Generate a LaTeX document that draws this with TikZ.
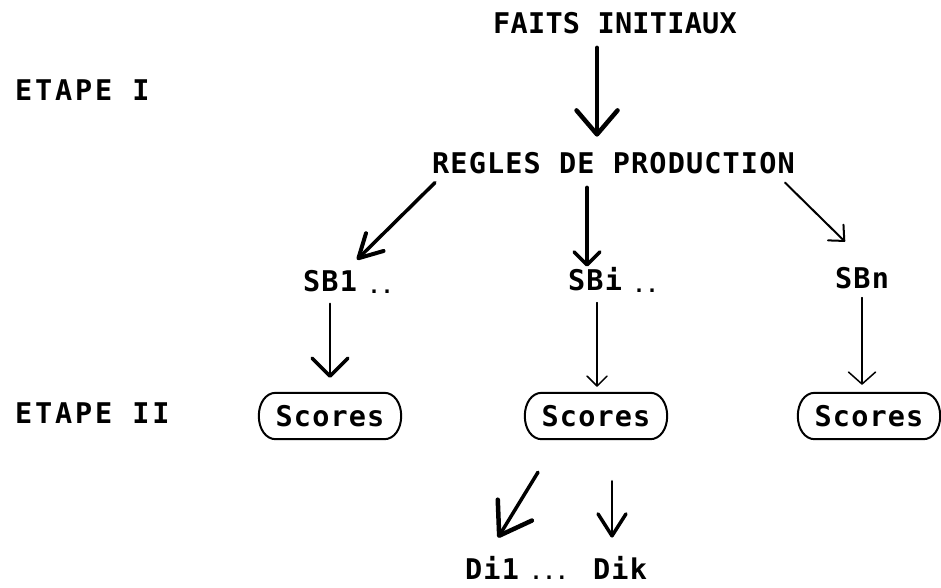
\documentclass[tikz,border=0pt]{standalone}
\usepackage{fontspec}
\usetikzlibrary{arrows.meta,calc}
\newfontfamily\lblfont{DejaVu Sans Mono}[LetterSpace=4]
% frame with parenthesis-like curved sides around a node
\newcommand\ovalframe[1]{%
  \draw[frame] ($(#1.north west)+(17,0)$) -- ($(#1.north east)+(-17,0)$)
    .. controls ($(#1.north east)+(-7,0)$) and ($(#1.east)+(0,-13)$) .. (#1.east)
    .. controls ($(#1.east)+(0,13)$) and ($(#1.south east)+(-7,0)$) .. ($(#1.south east)+(-17,0)$)
    -- ($(#1.south west)+(17,0)$)
    .. controls ($(#1.south west)+(7,0)$) and ($(#1.west)+(0,13)$) .. (#1.west)
    .. controls ($(#1.west)+(0,-13)$) and ($(#1.north west)+(7,0)$) .. cycle;}
\tikzset{
  lbl/.style={inner sep=0pt, font=\lblfont\bfseries\fontsize{28.5}{30}\selectfont},
  steplbl/.style={inner sep=0pt, font=\lblfont\bfseries\fontsize{28.5}{30}\selectfont\addfontfeature{LetterSpace=10}},
  dotlbl/.style={inner sep=0pt, font=\lblfont\bfseries\fontsize{20}{20}\selectfont},
  scorebox/.style={lbl, minimum width=142pt, minimum height=46pt},
  frame/.style={line width=2pt, line join=round},
  conn/.style n args={4}{line width=#1, line cap=round,
    -{Straight Barb[length=#2, width=#3, line width=#4, round]}}
}
\begin{document}
\begin{tikzpicture}[x=1pt, y=-1pt]
  \fill[white] (0,0) rectangle (941,587);
  \useasboundingbox (0,0) rectangle (941,587);

  % level labels
  \node[steplbl, anchor=base west] (etape1) at (15,100) {ETAPE I};
  \node[steplbl, anchor=base west] (etape2) at (15,423) {ETAPE II};

  % stage I
  \node[lbl, anchor=base west, font=\lblfont\bfseries\fontsize{28.5}{30}\selectfont\addfontfeature{LetterSpace=1}] (faits) at (493,33) {FAITS INITIAUX};
  \node[lbl, anchor=base west] (regles) at (432,173) {REGLES DE PRODUCTION};
  \node[lbl, anchor=base west] (sb1) at (303,291) {SB1};
  \node[dotlbl, anchor=base west] (sb1d) at (368,293) {..};
  \node[lbl, anchor=base west] (sbi) at (568,290) {SBi};
  \node[dotlbl, anchor=base west] (sbid) at (633,292) {..};
  \node[lbl, anchor=base west] (sbn) at (835,288) {SBn};

  % stage II
  \node[scorebox] (box1) at (330,416) {Scores};
  \node[scorebox] (box2) at (596,416) {Scores};
  \node[scorebox] (box3) at (869,416) {Scores};
  \ovalframe{box1}
  \ovalframe{box2}
  \ovalframe{box3}
  \node[lbl, anchor=base west] (di1) at (465,579) {Di1};
  \node[dotlbl, anchor=base west] (di1d) at (530,579) {...};
  \node[lbl, anchor=base west] (dik) at (593,579) {Dik};

  % connectors
  \draw[conn={4pt}{24pt}{41pt}{4.5pt}] ($(faits.south west)+(104,14)$) -- ($(regles.north west)+(165,-15)$);
  \draw[conn={3.5pt}{23pt}{25pt}{4pt}] ($(regles.south west)+(3,9)$) -- ($(sb1.north west)+(54,-10)$);
  \draw[conn={4pt}{13pt}{26pt}{3.5pt}] ($(regles.south west)+(155,14)$) -- ($(sbi.north west)+(19,0)$);
  \draw[conn={2pt}{12pt}{22pt}{2pt}] ($(regles.south west)+(353,9)$) -- ($(sbn.north west)+(10,-25)$);
  \draw[conn={2.2pt}{18pt}{36pt}{3.5pt}] ($(sb1.south west)+(27,12)$) -- ($(box1.north)+(0,-15)$);
  \draw[conn={1.5pt}{10pt}{20pt}{1.5pt}] ($(sbi.south west)+(29,12)$) -- ($(box2.north)+(1,-6)$);
  \draw[conn={1.5pt}{12pt}{27pt}{1.5pt}] ($(sbn.south west)+(27,9)$) -- ($(box3.north)+(-7,-8)$);
  \draw[conn={3.5pt}{30pt}{40pt}{4.5pt}] ($(box2.south)+(-58,33)$) -- ($(di1.north west)+(33,-18)$);
  \draw[conn={2.5pt}{22pt}{28pt}{3.5pt}] ($(box2.south)+(16,42)$) -- ($(dik.north west)+(19,-18)$);
\end{tikzpicture}
\end{document}
